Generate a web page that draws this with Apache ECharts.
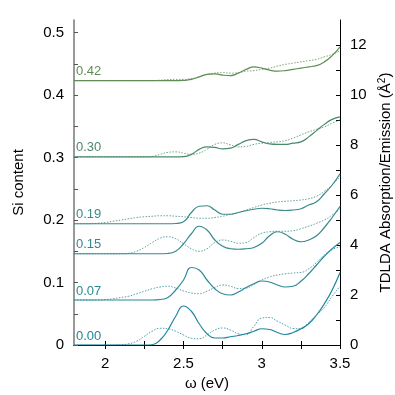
<!DOCTYPE html>
<html>
<head>
<meta charset="utf-8">
<script src="https://cdn.jsdelivr.net/npm/echarts@6/dist/echarts.min.js"></script>
<style>
  html, body { margin: 0; padding: 0; background: #fff; }
  #chart { width: 395px; height: 395px; }
</style>
</head>
<body>
<div id="chart"></div>
<script>
var omega = [1.80, 1.85, 1.90, 1.95, 2.00, 2.05, 2.10, 2.15, 2.20, 2.25, 2.30, 2.35, 2.40, 2.45, 2.50, 2.55, 2.60,
  2.65, 2.70, 2.75, 2.80, 2.85, 2.90, 2.95, 3.00, 3.05, 3.10, 3.15, 3.20, 3.25, 3.30, 3.35, 3.40, 3.45, 3.50];

// Si content of each curve (baseline on the left axis) and its label
var siContent = [0.000, 0.072, 0.146, 0.194, 0.301, 0.423];
var siLabels = ['0.00', '0.07', '0.15', '0.19', '0.30', '0.42'];
var colors = ['#1f86a0', '#2a8a98', '#35898f', '#3c8a88', '#4a8a6c', '#5f8e55'];

// absorption (solid), A^2, above each baseline
var abs000 = [0, 0, 0, 0, 0, 0, 0, 0, 0, 0, 0.01, 0.2, 0.6, 1.15, 1.56, 1.35, 0.85, 0.45, 0.28, 0.28, 0.33, 0.38, 0.45, 0.55, 0.65, 0.62, 0.5, 0.42, 0.5, 0.65, 0.85, 1.2, 1.65, 2.2, 2.9];
var abs007 = [0, 0, 0, 0, 0, 0, 0, 0, 0, 0, 0, 0.02, 0.1, 0.4, 0.8, 1.3, 1.2, 0.8, 0.45, 0.25, 0.2, 0.32, 0.5, 0.65, 0.76, 0.72, 0.6, 0.52, 0.55, 0.75, 1.05, 1.4, 1.75, 2.05, 2.3];
var abs015 = [0, 0, 0, 0, 0, 0, 0, 0, 0, 0, 0, 0, 0.01, 0.1, 0.4, 0.8, 1.1, 0.95, 0.55, 0.3, 0.2, 0.18, 0.2, 0.25, 0.42, 0.72, 0.88, 0.78, 0.58, 0.48, 0.55, 0.72, 1.05, 1.45, 1.9];
var abs019 = [0, 0, 0, 0, 0, 0, 0, 0, 0, 0, 0, 0, 0, 0.01, 0.08, 0.45, 0.7, 0.72, 0.55, 0.38, 0.38, 0.45, 0.52, 0.58, 0.62, 0.6, 0.55, 0.53, 0.55, 0.6, 0.75, 0.88, 1.2, 1.55, 2.0];
var abs030 = [0, 0, 0, 0, 0, 0, 0, 0, 0, 0, 0, 0, 0, 0, 0.01, 0.1, 0.3, 0.4, 0.38, 0.32, 0.35, 0.5, 0.65, 0.7, 0.6, 0.52, 0.5, 0.5, 0.55, 0.6, 0.8, 1.05, 1.3, 1.5, 1.6];
var abs042 = [0, 0, 0, 0, 0, 0, 0, 0, 0, 0, 0, 0, 0, 0, 0.01, 0.05, 0.15, 0.25, 0.27, 0.22, 0.2, 0.3, 0.45, 0.55, 0.5, 0.42, 0.38, 0.4, 0.45, 0.5, 0.55, 0.6, 0.75, 1.0, 1.35];

// emission (dotted)
var emi000 = [0, 0, 0, 0, 0, 0, 0.01, 0.05, 0.15, 0.35, 0.55, 0.67, 0.65, 0.55, 0.4, 0.27, 0.25, 0.4, 0.6, 0.68, 0.6, 0.45, 0.42, 0.75, 1.08, 1.1, 0.95, 0.8, 0.66, 0.65, 0.9, 1.2, 1.5, 1.95, 2.35];
var emi007 = [0, 0, 0, 0, 0.02, 0.05, 0.1, 0.15, 0.25, 0.35, 0.45, 0.52, 0.55, 0.48, 0.36, 0.28, 0.25, 0.35, 0.5, 0.6, 0.55, 0.46, 0.48, 0.62, 0.8, 0.92, 1.0, 1.05, 1.08, 1.1, 1.25, 1.5, 1.8, 2.02, 2.12];
var emi015 = [0, 0, 0, 0, 0, 0, 0, 0.02, 0.1, 0.25, 0.45, 0.62, 0.68, 0.6, 0.4, 0.2, 0.1, 0.2, 0.45, 0.55, 0.5, 0.42, 0.45, 0.65, 0.82, 0.88, 0.9, 0.9, 0.92, 1.0, 1.1, 1.22, 1.35, 1.55, 1.8];
var emi019 = [0, 0, 0, 0.02, 0.05, 0.1, 0.15, 0.2, 0.25, 0.28, 0.3, 0.32, 0.32, 0.3, 0.28, 0.25, 0.22, 0.22, 0.25, 0.3, 0.38, 0.45, 0.55, 0.65, 0.75, 0.82, 0.87, 0.9, 0.92, 0.95, 1.0, 1.1, 1.3, 1.55, 1.9];
var emi030 = [0, 0, 0, 0, 0, 0, 0, 0, 0, 0, 0.02, 0.1, 0.18, 0.2, 0.15, 0.1, 0.15, 0.3, 0.5, 0.56, 0.48, 0.4, 0.42, 0.5, 0.55, 0.58, 0.6, 0.65, 0.75, 0.88, 1.0, 1.1, 1.2, 1.35, 1.48];
var emi042 = [0, 0, 0, 0, 0, 0, 0, 0, 0, 0, 0, 0.02, 0.04, 0.05, 0.05, 0.08, 0.15, 0.25, 0.3, 0.32, 0.3, 0.32, 0.38, 0.4, 0.45, 0.5, 0.58, 0.65, 0.7, 0.75, 0.8, 0.85, 0.95, 1.05, 1.2];

var absAll = [abs000, abs007, abs015, abs019, abs030, abs042];
var emiAll = [emi000, emi007, emi015, emi019, emi030, emi042];

var xTicks = [2, 2.25, 2.5, 2.75, 3, 3.25, 3.5];
var xLabels = [2, 2.5, 3, 3.5];
var leftTicks = [0, 0.05, 0.1, 0.15, 0.2, 0.25, 0.3, 0.35, 0.4, 0.45, 0.5];
var leftLabels = [0, 0.1, 0.2, 0.3, 0.4, 0.5];
var rightTicks = [0, 1, 2, 3, 4, 5, 6, 7, 8, 9, 10, 11, 12];
var rightLabels = [0, 2, 4, 6, 8, 10, 12];

// left axis (Si content) and right axis (A^2) share the same pixel scale: 0.52 <-> 13
var scale = 25;

function shifted(vals, base) {
  return vals.map(function (v, i) { return [omega[i], base * scale + v]; });
}

var series = [];
for (var k = 0; k < siContent.length; k++) {
  series.push({
    type: 'line',
    yAxisIndex: 1,
    data: shifted(emiAll[k], siContent[k]),
    smooth: 0.5,
    symbol: 'none',
    silent: true,
    lineStyle: { color: colors[k], width: 1, type: [1.5, 1.5], opacity: 0.8 },
    z: 2
  });
  series.push({
    type: 'line',
    yAxisIndex: 1,
    data: shifted(absAll[k], siContent[k]),
    smooth: 0.5,
    symbol: 'none',
    silent: true,
    lineStyle: { color: colors[k], width: 1.2 },
    z: 3,
    markPoint: {
      symbol: 'rect',
      symbolSize: 0,
      silent: true,
      data: [{ coord: [1.8, siContent[k] * scale], value: siLabels[k] }],
      label: {
        show: true,
        position: 'right',
        distance: 0,
        offset: [2, -9],
        color: colors[k],
        fontSize: 13,
        fontFamily: 'Liberation Sans',
        formatter: '{c}'
      }
    }
  });
}

var axisFont = { color: '#000', fontSize: 15, fontFamily: 'Liberation Sans' };
var nameFont = { color: '#000', fontSize: 15, fontFamily: 'Liberation Sans' };

var chart = echarts.init(document.getElementById('chart'));
chart.setOption({
  animation: false,
  grid: { left: 74, right: 55, top: 20, bottom: 50, containLabel: false, outerBoundsMode: 'none' },
  xAxis: [{
    type: 'value',
    position: 'bottom',
    min: 1.8,
    max: 3.5,
    name: 'ω (eV)',
    nameLocation: 'middle',
    nameGap: 29,
    nameTextStyle: nameFont,
    axisLine: { show: true, lineStyle: { color: '#000', width: 1 } },
    axisTick: { show: true, inside: true, length: 4, customValues: xTicks, lineStyle: { color: '#000' } },
    axisLabel: Object.assign({ customValues: xLabels, margin: 11 }, axisFont),
    splitLine: { show: false }
  }, {
    type: 'value',
    position: 'top',
    min: 1.8,
    max: 3.5,
    axisLine: { show: true, lineStyle: { color: '#000', width: 1 } },
    axisTick: { show: true, inside: true, length: 4, customValues: xTicks, lineStyle: { color: '#000' } },
    axisLabel: { show: false },
    splitLine: { show: false }
  }],
  yAxis: [{
    type: 'value',
    position: 'left',
    min: 0,
    max: 0.52,
    name: 'Si content',
    nameLocation: 'middle',
    nameGap: 48,
    nameTextStyle: nameFont,
    axisLine: { show: true, lineStyle: { color: '#777', width: 1.5 } },
    axisTick: { show: true, inside: true, length: 4, customValues: leftTicks, lineStyle: { color: '#555' } },
    axisLabel: Object.assign({ customValues: leftLabels, margin: 10 }, axisFont),
    splitLine: { show: false }
  }, {
    type: 'value',
    position: 'right',
    min: 0,
    max: 13,
    name: 'TDLDA Absorption/Emission (Å{sup|2})',
    nameLocation: 'middle',
    nameGap: 31,
    nameRotate: 90,
    nameTextStyle: {
      color: '#000', fontSize: 15, fontFamily: 'Liberation Sans',
      rich: { sup: { fontSize: 10, verticalAlign: 'top', padding: [0, 0, 7, 0], color: '#000', fontFamily: 'Liberation Sans' } }
    },
    axisLine: { show: true, lineStyle: { color: '#000', width: 1 } },
    axisTick: { show: true, inside: true, length: 4, customValues: rightTicks, lineStyle: { color: '#000' } },
    axisLabel: Object.assign({ customValues: rightLabels, margin: 10 }, axisFont),
    splitLine: { show: false }
  }],
  series: series
});
</script>
</body>
</html>
